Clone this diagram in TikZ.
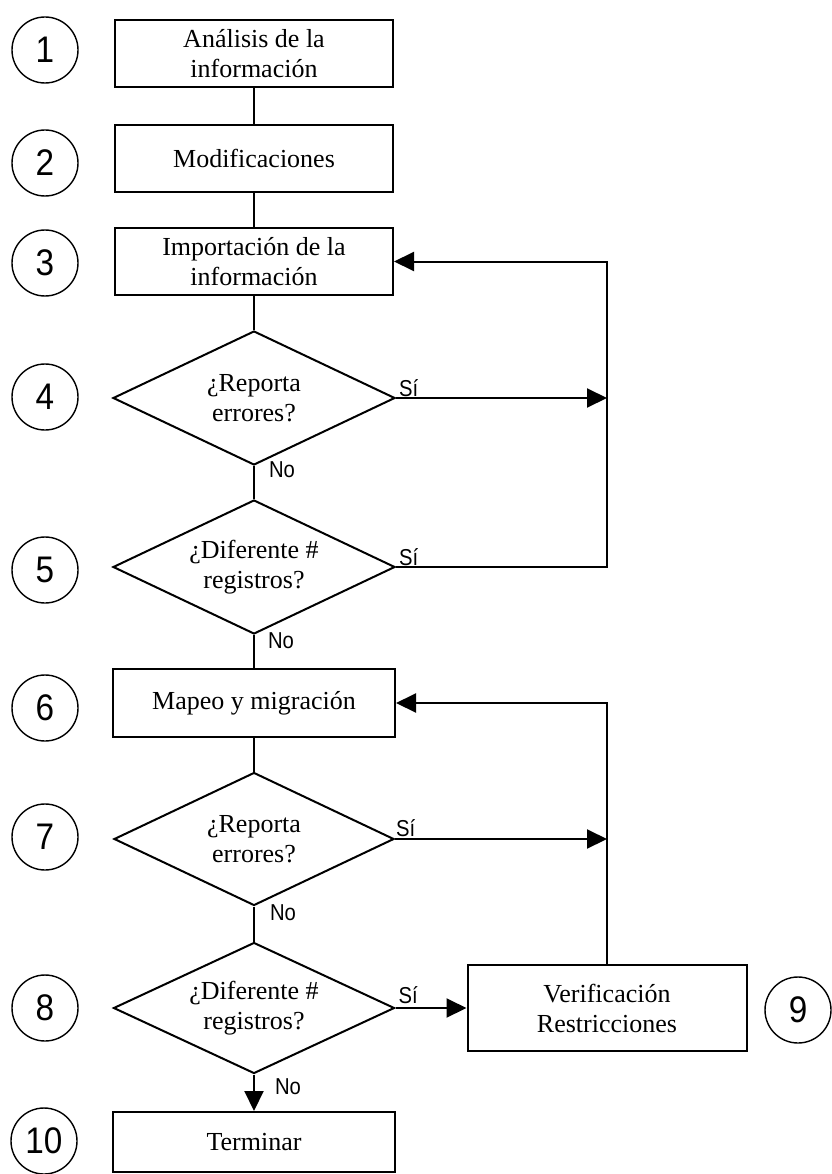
\documentclass[tikz,border=0pt]{standalone}
\usepackage{fontspec}
\setmainfont{Liberation Serif}
\newfontfamily\labelfont[FakeStretch=0.88]{Liberation Sans}
\newfontfamily\numfont[FakeStretch=0.9]{Liberation Sans}
\usetikzlibrary{shapes.geometric,arrows.meta}

\begin{document}
\begin{tikzpicture}[x=1pt,y=-1pt,line width=2pt,
  box/.style={draw, rectangle, inner sep=0pt, align=center,
    font=\fontsize{26}{30}\selectfont, minimum width=278pt, minimum height=67pt},
  decision/.style={draw, diamond, inner sep=0pt, align=center, shape aspect=2.1,
    font=\fontsize{26}{30}\selectfont, minimum width=282pt, minimum height=134pt},
  num/.style={draw, circle, line width=1.4pt, minimum size=66pt, inner sep=0pt,
    font=\numfont\fontsize{37}{37}\selectfont},
  lbl/.style={inner sep=0pt, font=\labelfont\fontsize{23}{23}\selectfont},
  arrowlink/.style={-{Triangle[length=20pt,width=19pt]}},
]
\useasboundingbox (0,0) rectangle (831,1174);

% step numbers
\node[num] (n1) at (45,50) {1};
\node[num] (n2) at (45,163) {2};
\node[num] (n3) at (45,263) {3};
\node[num] (n4) at (45,397) {4};
\node[num] (n5) at (45,570) {5};
\node[num] (n6) at (45,708) {6};
\node[num] (n7) at (45,837) {7};
\node[num] (n8) at (45,1008) {8};
\node[num] (n9) at (798,1010) {9};
\node[num] (n10) at (44,1141) {10};

% process steps and decisions
\node[box] (b1) at (254,54) {Análisis de la\\información};
\node[box] (b2) at (254,158.5) {Modificaciones};
\node[box] (b3) at (254,261.5) {Importación de la\\información};
\node[decision] (d4) at (254,398) {¿Reporta\\errores?};
\node[decision] (d5) at (254,567) {¿Diferente \#\\registros?};
\node[box, minimum width=282pt, minimum height=68pt] (b6) at (254,703) {Mapeo y migración};
\node[decision, minimum width=280pt, minimum height=133pt] (d7) at (254,839) {¿Reporta\\errores?};
\node[decision, minimum width=281pt, minimum height=131pt] (d8) at (254,1008) {¿Diferente \#\\registros?};
\node[box, minimum width=279pt, minimum height=86pt] (b9) at (607,1008) {Verificación\\Restricciones};
\node[box, minimum width=282pt, minimum height=60pt] (b10) at (254,1142) {Terminar};

% return-path corners
\coordinate (c3) at (607,261.5);
\coordinate (c4) at (607,398);
\coordinate (c5) at (607,567);
\coordinate (c6) at (607,703);
\coordinate (c7) at (607,839);

% main flow
\draw (b1.south) -- (b2.north);
\draw (b2.south) -- (b3.north);
\draw (b3.south) -- (d4.north);
\draw (d4.south) -- (d5.north);
\draw (d5.south) -- (b6.north);
\draw (b6.south) -- (d7.north);
\draw (d7.south) -- (d8.north);
\draw[arrowlink] (d8.south) -- (b10.north);

% loops back
\draw[arrowlink] (d4.east) -- (c4);
\draw[arrowlink] (d5.east) -- (c5) -- (c3) -- (b3.east);
\draw[arrowlink] (d7.east) -- (c7);
\draw[arrowlink] (b9.north) -- (c6) -- (b6.east);
\draw[arrowlink] (d8.east) -- (b9.west);

% branch labels
\node[lbl, anchor=base west] (s4) at ([xshift=2pt,yshift=2pt]d4.east) {Sí};
\node[lbl, anchor=base west] (s5) at ([xshift=2pt,yshift=2pt]d5.east) {Sí};
\node[lbl, anchor=base west] (s7) at ([xshift=0pt,yshift=3pt]d7.east) {Sí};
\node[lbl, anchor=base west] (s8) at ([xshift=2pt,yshift=5pt]d8.east) {Sí};
\node[lbl, anchor=north west] (o4) at ([xshift=14pt,yshift=5pt]d4.south) {No};
\node[lbl, anchor=north west] (o5) at ([xshift=13pt,yshift=3pt]d5.south) {No};
\node[lbl, anchor=north west] (o7) at ([xshift=15pt,yshift=3pt]d7.south) {No};
\node[lbl, anchor=north west] (o8) at ([xshift=20pt,yshift=-3pt]d8.south) {No};
\end{tikzpicture}
\end{document}
